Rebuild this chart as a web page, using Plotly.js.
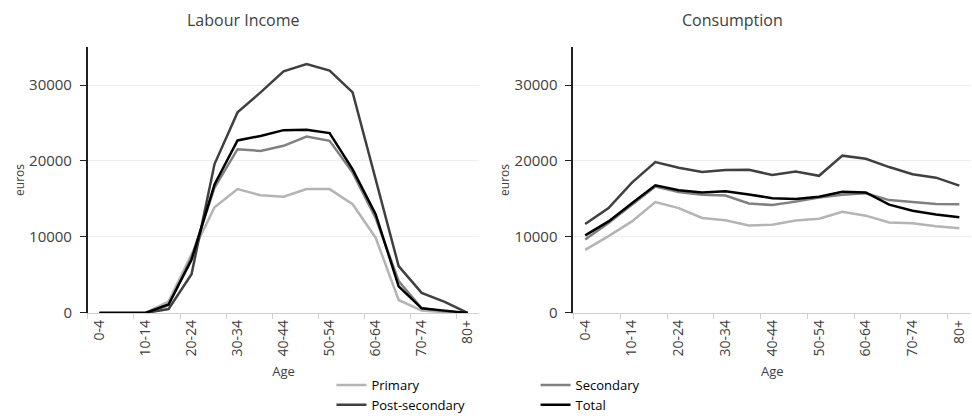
<!DOCTYPE html>
<html>
<head>
<meta charset="utf-8">
<script src="https://cdn.plot.ly/plotly-3.0.1.min.js"></script>
<style>
  html, body { margin: 0; padding: 0; background: #fff; }
  #chart { width: 972px; height: 420px; }
</style>
</head>
<body>
<div id="chart"></div>
<script>
// age groups (categories)
const ages = ['0-4', '5-9', '10-14', '15-19', '20-24', '25-29', '30-34', '35-39', '40-44',
  '45-49', '50-54', '55-59', '60-64', '65-69', '70-74', '75-79', '80+'];

// labour income by education, euros
const incPrimary   = [0, 0, 0, 1500, 7800, 13900, 16300, 15500, 15300, 16300, 16300, 14300, 9900, 1700, 300, 100, 0];
const incSecondary = [0, 0, 0, 1000, 7300, 16500, 21550, 21330, 22000, 23220, 22650, 18470, 12500, 4200, 600, 200, 0];
const incPost      = [0, 0, 0, 500, 5100, 19600, 26400, 29030, 31800, 32770, 31890, 29020, 17600, 6160, 2640, 1450, 0];
const incTotal     = [0, 0, 0, 1100, 7000, 16900, 22700, 23300, 24060, 24100, 23670, 18900, 13000, 3500, 600, 300, 0];

// consumption by education, euros
const conPrimary   = [8300, 10100, 12050, 14600, 13800, 12500, 12200, 11500, 11600, 12150, 12400, 13300, 12800, 11900, 11800, 11400, 11150];
const conSecondary = [9650, 11850, 14250, 16650, 15900, 15550, 15450, 14400, 14200, 14650, 15200, 15550, 15750, 14850, 14600, 14350, 14300];
const conPost      = [11700, 13800, 17150, 19850, 19100, 18550, 18800, 18850, 18150, 18600, 18050, 20700, 20300, 19200, 18250, 17800, 16750];
const conTotal     = [10200, 12050, 14450, 16800, 16150, 15850, 16000, 15600, 15100, 15000, 15300, 15950, 15850, 14250, 13450, 12950, 12600];

const series = [
  { name: 'Primary',        inc: incPrimary,   con: conPrimary,   color: '#b4b4b4', legend: 'legend'  },
  { name: 'Secondary',      inc: incSecondary, con: conSecondary, color: '#808080', legend: 'legend2' },
  { name: 'Post-secondary', inc: incPost,      con: conPost,      color: '#404040', legend: 'legend'  },
  { name: 'Total',          inc: incTotal,     con: conTotal,     color: '#000000', legend: 'legend2' }
];

const FONT = '"Open Sans", Lato, sans-serif';
const TXT = '#404040';

const traces = [];
series.forEach(s => {
  traces.push({
    type: 'scatter', mode: 'lines', name: s.name, x: ages, y: s.inc,
    xaxis: 'x', yaxis: 'y', legend: s.legend,
    line: { color: s.color, width: 2.5 }
  });
});
series.forEach(s => {
  traces.push({
    type: 'scatter', mode: 'lines', name: s.name, x: ages, y: s.con,
    xaxis: 'x2', yaxis: 'y2', showlegend: false,
    line: { color: s.color, width: 2.5 }
  });
});

const xAxis = domain => ({
  domain: domain,
  type: 'category',
  range: [-0.5, 16.5],
  tickmode: 'linear', dtick: 2, tick0: 0,
  tickangle: -90,
  tickfont: { family: FONT, size: 14, color: TXT },
  ticks: 'outside', ticklen: 5, tickcolor: '#d0d0d0', tickson: 'boundaries',
  showline: true, linecolor: '#d0d0d0', linewidth: 1.5,
  showgrid: false, zeroline: false, automargin: false,
  title: { text: 'Age', font: { family: FONT, size: 13, color: TXT }, standoff: 11 }
});

const yAxis = anchor => ({
  anchor: anchor,
  domain: [0.255, 0.888],
  range: [0, 35000],
  tickvals: [0, 10000, 20000, 30000],
  tickformat: 'd',
  tickfont: { family: FONT, size: 15, color: TXT },
  ticks: 'outside', ticklen: 6, tickcolor: '#202020', ticklabelstandoff: 5,
  showline: true, linecolor: '#202020', linewidth: 2,
  showgrid: true, gridcolor: '#eeeeee', gridwidth: 1,
  zeroline: false, automargin: false,
  title: { text: 'euros', font: { family: FONT, size: 12, color: TXT }, standoff: 2 }
});

// legends sit inside the paper so they do not push the margins
const legendBox = x => ({
  x: x, y: 0, xanchor: 'left', yanchor: 'bottom',
  orientation: 'v', tracegroupgap: 0,
  font: { family: FONT, size: 13, color: '#000' },
  bgcolor: 'rgba(0,0,0,0)'
});

const layout = {
  width: 972, height: 420,
  margin: { l: 0, r: 0, t: 0, b: 0 },
  paper_bgcolor: '#fff', plot_bgcolor: '#fff',
  font: { family: FONT, color: TXT },
  xaxis: Object.assign(xAxis([0.0905, 0.493]), { anchor: 'y' }),
  yaxis: yAxis('x'),
  xaxis2: Object.assign(xAxis([0.59, 0.999]), { anchor: 'y2' }),
  yaxis2: yAxis('x2'),
  legend: legendBox(0.341),
  legend2: legendBox(0.551),
  annotations: [
    { text: 'Labour Income', x: 243, y: 20 },
    { text: 'Consumption', x: 732, y: 20 }
  ].map(a => Object.assign(a, {
    x: a.x / 972, y: 1 - a.y / 420,
    xref: 'paper', yref: 'paper', xanchor: 'center', yanchor: 'middle', showarrow: false,
    font: { family: FONT, size: 16, color: TXT }
  }))
};

Plotly.newPlot('chart', traces, layout, { displayModeBar: false, staticPlot: true });
</script>
</body>
</html>
